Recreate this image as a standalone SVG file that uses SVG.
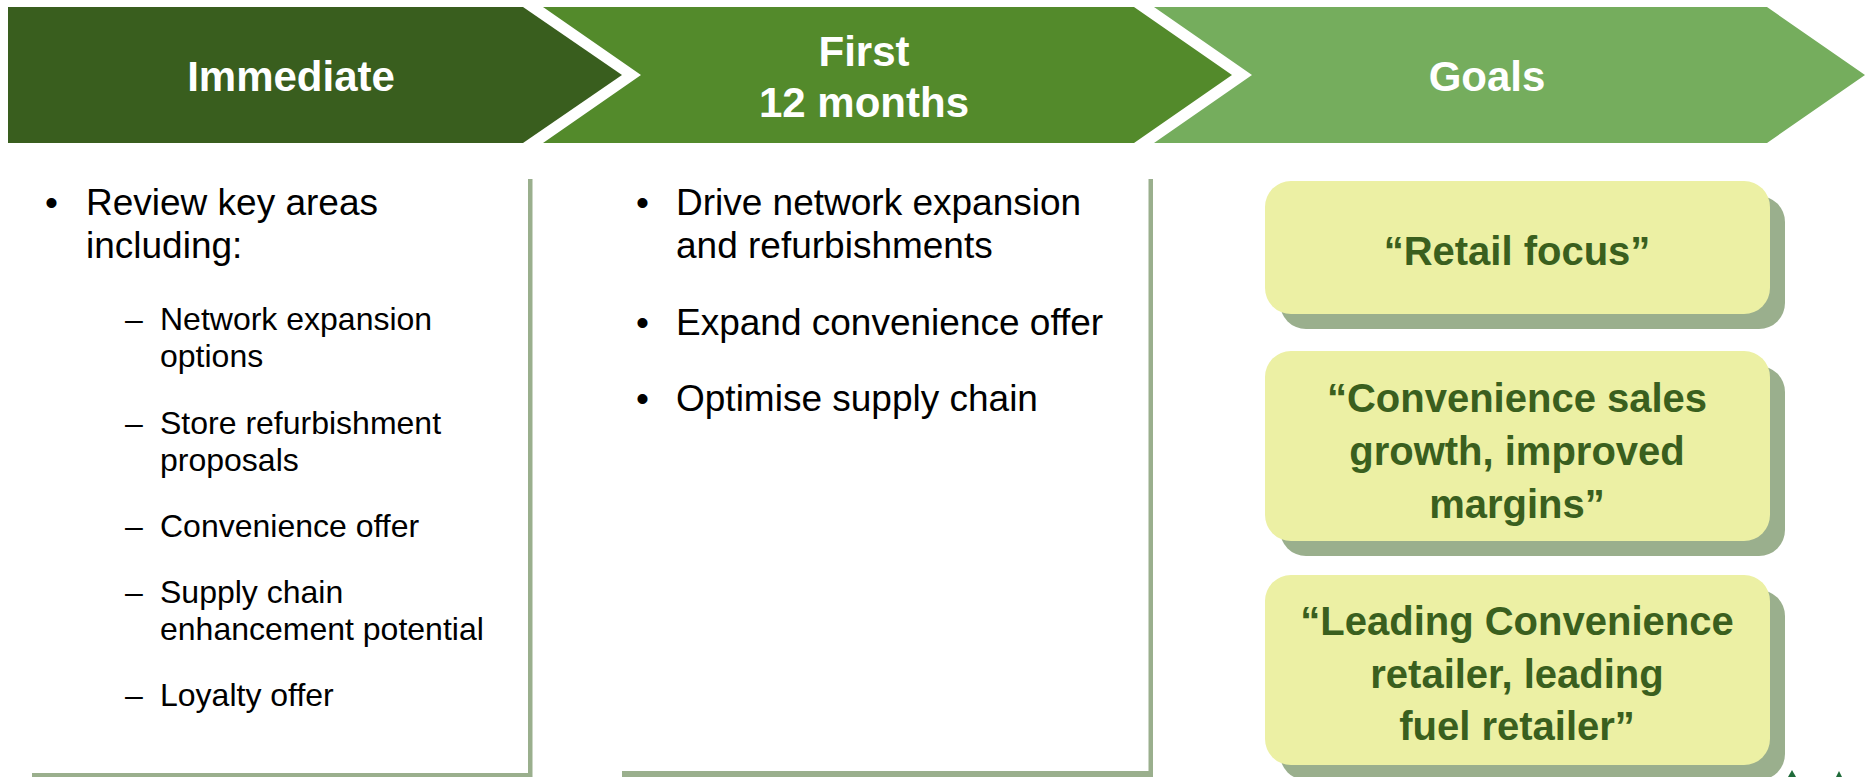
<svg xmlns="http://www.w3.org/2000/svg" width="1872" height="777" viewBox="0 0 1872 777">
<style>
.hd{font-family:"Liberation Sans",Arial,sans-serif;font-weight:bold;font-size:42px;fill:#ffffff;text-anchor:middle}
.b{font-family:"Liberation Sans",Arial,sans-serif;font-size:37px;fill:#000000}
.s{font-family:"Liberation Sans",Arial,sans-serif;font-size:32px;fill:#000000}
.g{font-family:"Liberation Sans",Arial,sans-serif;font-weight:bold;font-size:40px;fill:#3A5F1E;text-anchor:middle}
.ln{fill:#9AAF8D}
.box{fill:#ECF0A4}
.sh{fill:#9AAF8D}
</style>
<rect width="1872" height="777" fill="#ffffff"/>
<g id="chevron-immediate">
<path d="M8,7 H523 L622,75 L523,143 H8 Z" fill="#395E1E"/>
<text class="hd" x="291" y="91">Immediate</text>
</g>
<g id="chevron-first12">
<path d="M543,7 H1134 L1232,75 L1134,143 H543 L641,75 Z" fill="#538A2B"/>
<text class="hd" x="864" y="66">First</text>
<text class="hd" x="864" y="117">12 months</text>
</g>
<g id="chevron-goals">
<path d="M1154,7 H1767 L1865,75 L1767,143 H1154 L1252,75 Z" fill="#75AD5D"/>
<text class="hd" x="1487" y="91">Goals</text>
</g>
<g id="col-immediate">
<rect class="ln" x="528" y="179" width="4.5" height="598"/>
<rect class="ln" x="32" y="773" width="500" height="4"/>
<text class="b" x="45" y="215">•</text>
<text class="b" x="86" y="215">Review key areas</text>
<text class="b" x="86" y="258">including:</text>
<text class="s" x="125" y="330">–</text><text class="s" x="160" y="330">Network expansion</text>
<text class="s" x="160" y="367">options</text>
<text class="s" x="125" y="434">–</text><text class="s" x="160" y="434">Store refurbishment</text>
<text class="s" x="160" y="471">proposals</text>
<text class="s" x="125" y="537">–</text><text class="s" x="160" y="537">Convenience offer</text>
<text class="s" x="125" y="603">–</text><text class="s" x="160" y="603">Supply chain</text>
<text class="s" x="160" y="640">enhancement potential</text>
<text class="s" x="125" y="706">–</text><text class="s" x="160" y="706">Loyalty offer</text>
</g>
<g id="col-first12">
<rect class="ln" x="1148.5" y="179" width="4.5" height="598"/>
<rect class="ln" x="622" y="771" width="531" height="6"/>
<text class="b" x="636" y="215">•</text>
<text class="b" x="676" y="215">Drive network expansion</text>
<text class="b" x="676" y="258">and refurbishments</text>
<text class="b" x="636" y="335">•</text>
<text class="b" x="676" y="335">Expand convenience offer</text>
<text class="b" x="636" y="411">•</text>
<text class="b" x="676" y="411">Optimise supply chain</text>
</g>
<g id="goal-retail-focus">
<rect class="sh" x="1280" y="196" width="505" height="133" rx="26"/>
<rect class="box" x="1265" y="181" width="505" height="133" rx="26"/>
<text class="g" x="1517" y="265">“Retail focus”</text>
</g>
<g id="goal-convenience-sales">
<rect class="sh" x="1280" y="366" width="505" height="190" rx="26"/>
<rect class="box" x="1265" y="351" width="505" height="190" rx="26"/>
<text class="g" x="1517" y="412">“Convenience sales</text>
<text class="g" x="1517" y="465">growth, improved</text>
<text class="g" x="1517" y="518">margins”</text>
</g>
<g id="goal-leading">
<rect class="sh" x="1280" y="590" width="505" height="190" rx="26"/>
<rect class="box" x="1265" y="575" width="505" height="190" rx="26"/>
<text class="g" x="1517" y="635">“Leading Convenience</text>
<text class="g" x="1517" y="688">retailer, leading</text>
<text class="g" x="1517" y="740">fuel retailer”</text>
</g>
<g id="logo-fragment">
<path d="M1788,777 L1792,770 L1796,777 Z" fill="#1F6B3A"/>
<path d="M1836,777 L1839,771 L1842,777 Z" fill="#1F6B3A"/>
</g>
<g id="connectors"/>
</svg>
